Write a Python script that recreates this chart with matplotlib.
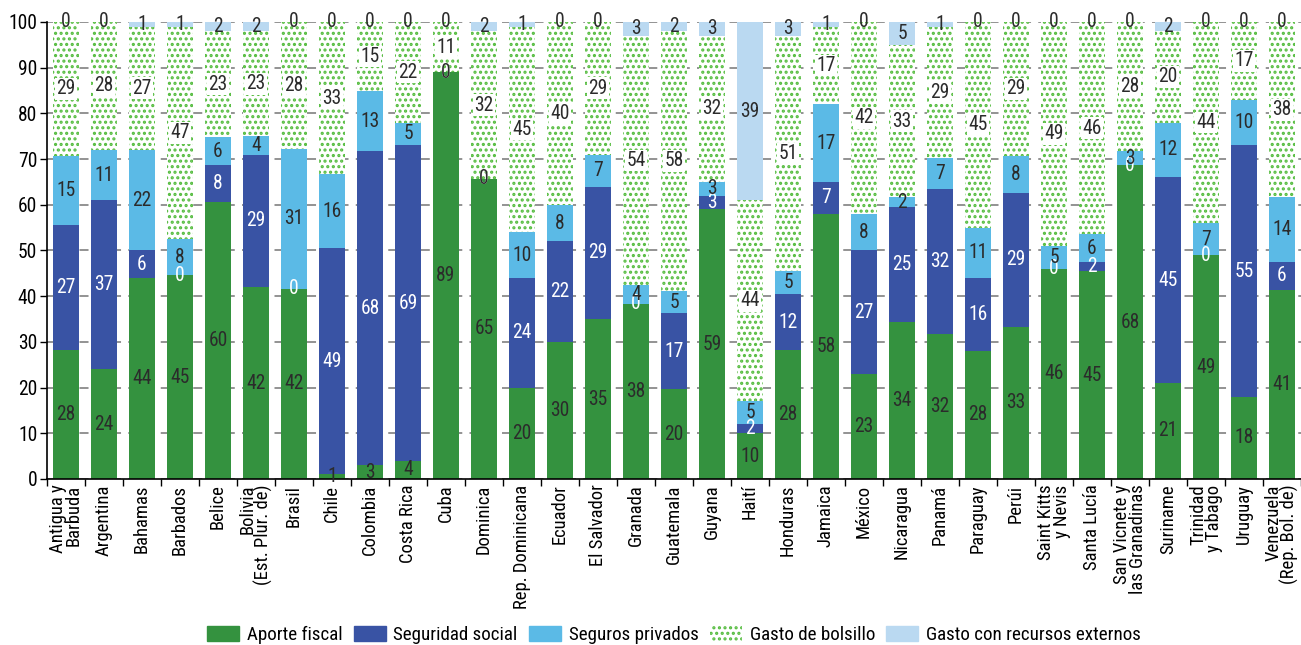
import matplotlib.pyplot as plt
import matplotlib.patches as mpatches
from matplotlib import font_manager as fm
import numpy as np

# data
countries = ['Antigua y\nBarbuda', 'Argentina', 'Bahamas', 'Barbados', 'Belice',
             'Bolivia\n(Est. Plur. de)', 'Brasil', 'Chile', 'Colombia', 'Costa Rica',
             'Cuba', 'Dominica', 'Rep. Dominicana', 'Ecuador', 'El Salvador', 'Granada',
             'Guatemala', 'Guyana', 'Haití', 'Honduras', 'Jamaica', 'México', 'Nicaragua',
             'Panamá', 'Paraguay', 'Perúi', 'Saint Kitts\ny Nevis', 'Santa Lucía',
             'San Vicnete y\nlas Granadinas', 'Suriname', 'Trinidad\ny Tabago', 'Uruguay',
             'Venezuela\n(Rep. Bol. de)']
aporte_fiscal = [28, 24, 44, 45, 60, 42, 42, 1, 3, 4, 89, 65, 20, 30, 35, 38, 20,
                 59, 10, 28, 58, 23, 34, 32, 28, 33, 46, 45, 68, 21, 49, 18, 41]
seguridad_social = [27, 37, 6, 0, 8, 29, 0, 49, 68, 69, 0, 0, 24, 22, 29, 0, 17,
                    3, 2, 12, 7, 27, 25, 32, 16, 29, 0, 2, 0, 45, 0, 55, 6]
seguros_privados = [15, 11, 22, 8, 6, 4, 31, 16, 13, 5, 0, 0, 10, 8, 7, 4, 5,
                    3, 5, 5, 17, 8, 2, 7, 11, 8, 5, 6, 3, 12, 7, 10, 14]
gasto_bolsillo = [29, 28, 27, 47, 23, 23, 28, 33, 15, 22, 11, 32, 45, 40, 29, 54, 58,
                  32, 44, 51, 17, 42, 33, 29, 45, 29, 49, 46, 28, 20, 44, 17, 38]
recursos_externos = [0, 0, 1, 1, 2, 2, 0, 0, 0, 0, 0, 2, 1, 0, 0, 3, 2,
                     3, 39, 3, 1, 0, 5, 1, 0, 0, 0, 0, 0, 2, 0, 0, 0]

series = [
    ('Aporte fiscal', aporte_fiscal, dict(color='#34923f'), '#2b2b2b'),
    ('Seguridad social', seguridad_social, dict(color='#3953a4'), 'white'),
    ('Seguros privados', seguros_privados, dict(color='#5bbae6'), '#2b2b2b'),
    ('Gasto de bolsillo', gasto_bolsillo,
     dict(facecolor='white', edgecolor='#55bc3f', hatch='...', linewidth=0), '#2b2b2b'),
    ('Gasto con recursos externos', recursos_externos, dict(color='#bad9f1'), '#2b2b2b'),
]

# pick a condensed font if one is installed
fonts = {(f.name, f.stretch) for f in fm.fontManager.ttflist}
narrow = False
for fam in ['Liberation Sans Narrow', 'Roboto Condensed', 'Open Sans Condensed',
            'Noto Sans Condensed', 'DejaVu Sans Condensed']:
    if any(n == fam for n, s in fonts):
        plt.rcParams['font.family'] = [fam, 'DejaVu Sans']
        narrow = True
        break
if not narrow:
    for fam in ['DejaVu Sans', 'Noto Sans', 'Open Sans', 'Roboto']:
        if any(n == fam and s in ('condensed', 'semi-condensed', 'extra-condensed', 75, 87)
               for n, s in fonts):
            plt.rcParams['font.family'] = [fam, 'DejaVu Sans']
            plt.rcParams['font.stretch'] = 'condensed'
            narrow = True
            break
if not narrow:
    plt.rcParams['font.family'] = ['Liberation Sans', 'DejaVu Sans']
plt.rcParams['hatch.linewidth'] = 1.5

fig = plt.figure(figsize=(13.01, 6.45), dpi=100)
renderer = fig.canvas.get_renderer()


def size_for(s, target_px):
    # font size that makes the string s about target_px wide
    t = fig.text(0, 0, s, fontsize=14)
    w = t.get_window_extent(renderer).width
    t.remove()
    return 14 * target_px / w


fs = size_for('100', 29)
xfs = size_for('Rep. Dominicana', 125)
lfs = size_for('Gasto con recursos externos', 217)

ax = fig.add_axes([0.0361, 0.2574, 0.9639, 0.7085])

x = np.arange(len(countries))
totals = np.sum([s[1] for s in series], axis=0)
bottom = np.zeros(len(countries))
for name, vals, style, tcol in series:
    v = np.array(vals, dtype=float)
    h = v / totals * 100
    ax.bar(x, h, 0.66, bottom=bottom, zorder=2, **style)
    for xi, b, hi, lab in zip(x, bottom, h, vals):
        kw = {}
        if name == 'Gasto de bolsillo':
            kw['bbox'] = dict(facecolor='white', edgecolor='none', pad=1)
        ax.text(xi, b + hi / 2, str(lab), ha='center', va='center',
                fontsize=fs, color=tcol, zorder=4, **kw)
    bottom += h

ax.set_xlim(-0.5, len(countries) - 0.5)
ax.set_ylim(0, 100)
ax.set_yticks(range(0, 101, 10))
ax.yaxis.grid(True, linestyle=(0, (5, 4)), color='#8a8a8a', linewidth=1.3, zorder=0)
ax.set_axisbelow(True)

ax.set_xticks(x)
ax.set_xticklabels(countries, rotation=90, ha='center', va='top',
                   multialignment='right', fontsize=xfs, linespacing=0.8)
ax.set_xticks(np.arange(-0.5, len(countries), 1), minor=True)
ax.tick_params(axis='x', which='major', length=0, pad=4)
ax.tick_params(axis='x', which='minor', length=5, width=1, direction='out')
ax.tick_params(axis='y', labelsize=fs, length=5, width=1, pad=2)

for s in ['top', 'right']:
    ax.spines[s].set_visible(False)
ax.spines['left'].set_linewidth(1.2)
ax.spines['bottom'].set_linewidth(1.2)

handles = [mpatches.Patch(label=name, **style) for name, vals, style, tcol in series]
fig.legend(handles=handles, loc='center', bbox_to_anchor=(0.518, 0.0155), ncol=5,
           frameon=False, fontsize=lfs, handlelength=32 / (lfs * 100 / 72),
           handleheight=16 / (lfs * 100 / 72), handletextpad=0.4, columnspacing=0.6,
           borderpad=0, borderaxespad=0)

fig.savefig('out.png', dpi=100)
